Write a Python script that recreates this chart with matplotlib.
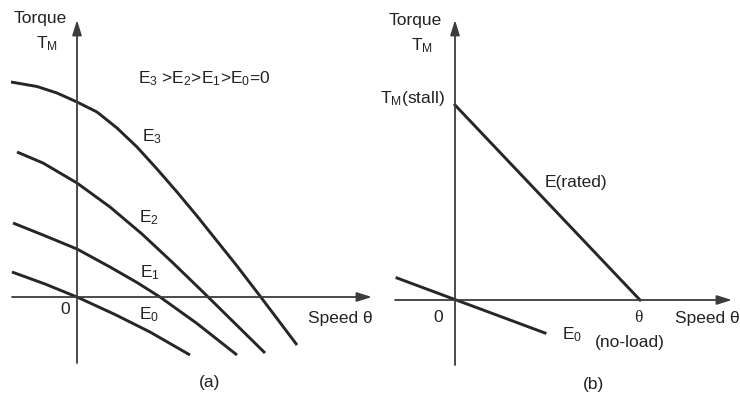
import matplotlib
matplotlib.use("Agg")
from matplotlib import pyplot as plt

plt.rcParams["font.family"] = ["Liberation Sans", "DejaVu Sans"]
plt.rcParams["mathtext.fontset"] = "custom"
plt.rcParams["mathtext.rm"] = "Liberation Sans"
plt.rcParams["mathtext.it"] = "Liberation Sans:italic"

# (a) torque-speed curves for different control voltages
e3_speed = [-6.6, -4.0, -2.0, 0.0, 2.0, 4.0, 6.0, 8.0, 10.0, 12.0, 14.0, 16.0, 18.3, 22.0]
e3_torque = [21.5, 21.05, 20.4, 19.5, 18.5, 16.9, 15.0, 12.8, 10.5, 8.1, 5.6, 3.1, 0.1, -4.8]

e2_speed = [-6.0, -3.4, 0.0, 3.3, 6.5, 9.5, 12.5, 15.5, 18.8]
e2_torque = [14.5, 13.4, 11.4, 9.0, 6.3, 3.5, 0.6, -2.35, -5.6]

e1_speed = [-6.4, -3.4, 0.0, 3.3, 6.0, 8.3, 12.0, 16.0]
e1_torque = [7.4, 6.2, 4.8, 3.0, 1.45, 0.0, -2.65, -5.8]

e0_speed = [-6.5, -3.2, 0.0, 3.8, 7.3, 11.3]
e0_torque = [2.5, 1.3, 0.0, -1.75, -3.5, -5.8]

# (b) linearised characteristic
rated_speed = [0.0, 18.5]
rated_torque = [19.5, 0.0]

b_e0_speed = [-5.8, 9.0]
b_e0_torque = [2.2, -3.3]

line_color = "#262626"
axis_color = "#3c3c3c"
text_color = "#222222"
fs = 12.5

fig = plt.figure(figsize=(7.4, 3.94), dpi=100)
fig.patch.set_facecolor("white")

ax_a = fig.add_axes([0, 0, 0.5, 1])
ax_a.set_xlim(-7.7, 29.3)
ax_a.set_ylim(-9.7, 29.7)
ax_a.axis("off")

ax_b = fig.add_axes([0.5, 0, 0.5, 1])
ax_b.set_xlim(-8.5, 28.5)
ax_b.set_ylim(-9.4, 30.0)
ax_b.axis("off")


def draw_axes(ax, x0, x1, y0, y1):
    arrow = dict(arrowstyle="-|>,head_length=0.9,head_width=0.28", lw=1.3,
                 color=axis_color, shrinkA=0, shrinkB=0)
    ax.annotate("", xy=(x1, 0), xytext=(x0, 0), arrowprops=arrow,
                annotation_clip=False)
    ax.annotate("", xy=(0, y1), xytext=(0, y0), arrowprops=arrow,
                annotation_clip=False)


def label(ax, x, y, s, **kw):
    kw.setdefault("va", "center")
    ax.text(x, y, s, fontsize=fs, color=text_color, **kw)


# panel (a)
draw_axes(ax_a, -6.5, 29.5, -6.6, 27.7)
for sp, tq in [(e3_speed, e3_torque), (e2_speed, e2_torque),
               (e1_speed, e1_torque), (e0_speed, e0_torque)]:
    ax_a.plot(sp, tq, color=line_color, lw=2.1, solid_capstyle="butt",
              solid_joinstyle="round")

label(ax_a, 6.5, 16.0, r"$\mathrm{E_3}$")
label(ax_a, 6.2, 7.9, r"$\mathrm{E_2}$")
label(ax_a, 6.3, 2.4, r"$\mathrm{E_1}$")
label(ax_a, 6.2, -1.8, r"$\mathrm{E_0}$")
label(ax_a, 6.1, 21.8,
      r"$\mathrm{E_3}$ >$\mathrm{E_2}$>$\mathrm{E_1}$>$\mathrm{E_0}$=0")
label(ax_a, -1.2, -1.3, "0", ha="center")
label(ax_a, 23.1, -2.2, "Speed θ")
label(ax_a, -3.7, 27.9, "Torque", ha="center")
label(ax_a, -3.0, 25.3, r"$\mathrm{T_M}$", ha="center")
label(ax_a, 13.3, -8.6, "(a)", ha="center")

# panel (b)
draw_axes(ax_b, -6.0, 27.7, -6.5, 28.0)
ax_b.plot(rated_speed, rated_torque, color=line_color, lw=2.1)
ax_b.plot(b_e0_speed, b_e0_torque, color=line_color, lw=2.1)

label(ax_b, -1.0, 20.2, r"$\mathrm{T_M(stall)}$", ha="right")
label(ax_b, 9.0, 11.8, "E(rated)")
label(ax_b, 10.7, -3.5, r"$\mathrm{E_0}$")
label(ax_b, 18.3, -1.8, "θ", ha="center", family="Liberation Serif")
label(ax_b, 17.5, -4.2, "(no-load)", ha="center")
label(ax_b, 22.0, -1.8, "Speed θ")
label(ax_b, -1.7, -1.8, "0", ha="center")
label(ax_b, -4.0, 28.0, "Torque", ha="center")
label(ax_b, -3.3, 25.4, r"$\mathrm{T_M}$", ha="center")
label(ax_b, 13.8, -8.5, "(b)", ha="center")

fig.savefig("out.png", dpi=100, facecolor="white")
